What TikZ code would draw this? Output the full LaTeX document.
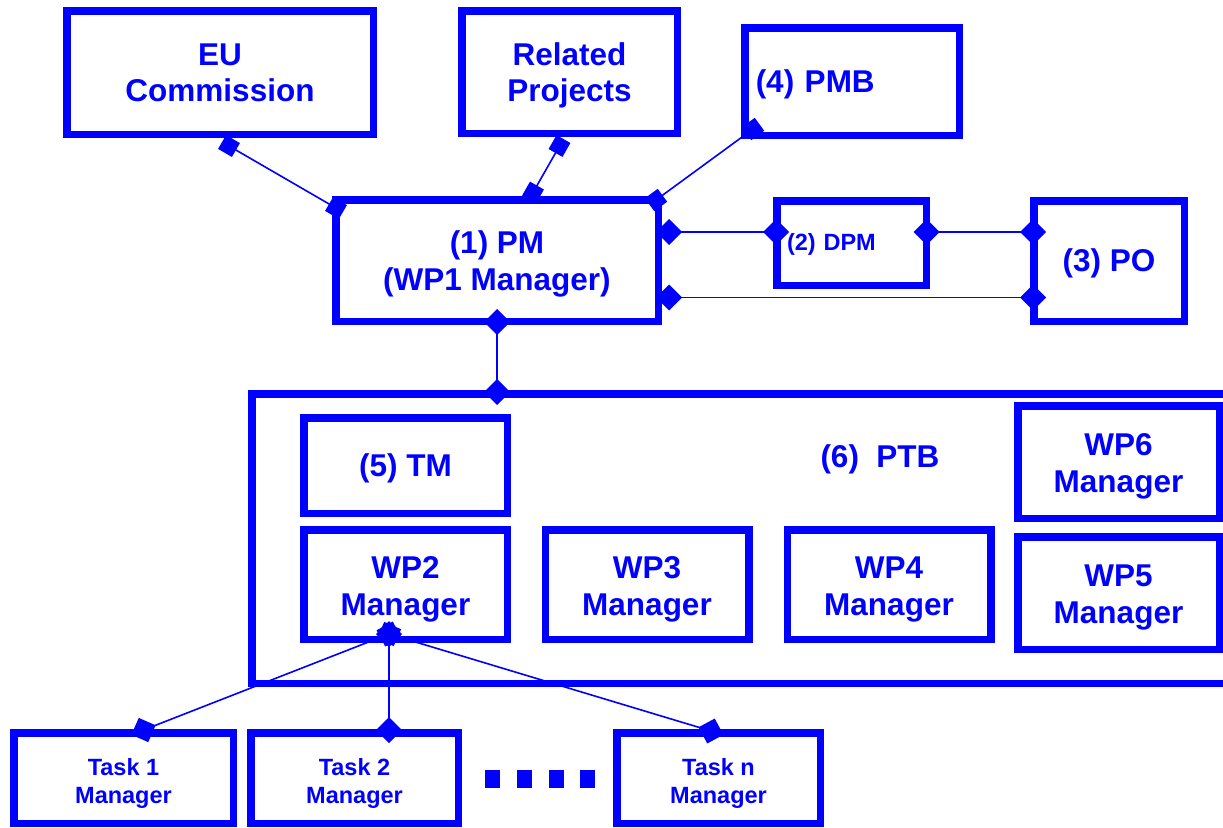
\documentclass[tikz,border=0pt]{standalone}
\usepackage{fontspec}
\setmainfont{Liberation Sans}
\usetikzlibrary{arrows.meta,calc}
\newcommand{\dnx}[2]{\raisebox{-#1}[\height][\depth]{\begin{tabular}{@{}c@{}}#2\end{tabular}}}
\begin{document}
\begin{tikzpicture}[x=1pt,y=-1pt,
  box/.style={draw=blue, line width=7.5pt, text=blue, inner sep=0pt, align=center,
              font=\fontsize{31.5}{36.5}\selectfont\bfseries},
  smallbox/.style={box, font=\fontsize{23.5}{28}\selectfont\bfseries},
  lbl/.style={text=blue, inner sep=0pt, font=\fontsize{31.5}{36.5}\selectfont\bfseries},
  conn/.style={color=blue, line width=1.6pt},
  ss/.style={conn, {Square[length=16pt,width=16pt]}-{Square[length=16pt,width=16pt]},
             shorten <=-8pt, shorten >=-8pt},
  dd/.style={conn, {Diamond[length=26pt,width=26pt]}-{Diamond[length=26pt,width=26pt]},
             shorten <=-13pt, shorten >=-13pt},
]
\useasboundingbox (0,0) rectangle (1223,827);
\clip (0,0) rectangle (1223,827);

% top row
\node[box, minimum width=306.5pt, minimum height=123.5pt] (eu) at (220,72.5) {\dnx{3.5pt}{EU\\Commission}};
\node[box, minimum width=215.5pt, minimum height=122.5pt] (rel) at (569.5,72) {\dnx{4pt}{Related\\Projects}};
\node[box, text width=192.5pt, inner xsep=11pt, align=left, minimum height=107.5pt] (pmb) at (852,81.5) {\dnx{3.5pt}{(4) PMB}};

% second row
\node[box, minimum width=322.5pt, minimum height=121.5pt] (pm) at (497,260.5) {\dnx{4pt}{(1) PM\\(WP1 Manager)}};
\node[box, text width=129pt, inner xsep=10.25pt, align=left, minimum height=84.5pt,
      font=\fontsize{23.5}{28}\selectfont\bfseries] (dpm) at (851.5,243) {\dnx{1.5pt}{(2) DPM}};
\node[box, minimum width=150.5pt, minimum height=120.5pt] (po) at (1109,261) {\dnx{3.5pt}{(3) PO}};

% PTB board
\node[box, minimum width=1048.25pt, minimum height=289.5pt] (ptb) at (775.9,538.5) {};
\node[lbl] (ptbl) at (880,458) {\dnx{2.5pt}{(6)\ \ PTB}};
\node[box, minimum width=203.5pt, minimum height=95.5pt] (tm) at (405.5,465.5) {\dnx{3.5pt}{(5) TM}};
\node[box, minimum width=203.5pt, minimum height=109.5pt] (wp2) at (405.5,584.5) {\dnx{5pt}{WP2\\Manager}};
\node[box, minimum width=203.5pt, minimum height=109.5pt] (wp3) at (647,584.5) {\dnx{5pt}{WP3\\Manager}};
\node[box, minimum width=203.5pt, minimum height=109.5pt] (wp4) at (889,584.5) {\dnx{5pt}{WP4\\Manager}};
\node[box, minimum width=201.5pt, minimum height=112.5pt] (wp6) at (1118.5,462) {\dnx{4.5pt}{WP6\\Manager}};
\node[box, minimum width=201.5pt, minimum height=112.5pt] (wp5) at (1118.5,593) {\dnx{4.5pt}{WP5\\Manager}};

% tasks
\node[smallbox, minimum width=219.5pt, minimum height=90.5pt] (t1) at (123.5,778) {\dnx{5.5pt}{Task 1\\Manager}};
\node[smallbox, minimum width=207.5pt, minimum height=90.5pt] (t2) at (354.5,778) {\dnx{5.5pt}{Task 2\\Manager}};
\node[smallbox, minimum width=203.5pt, minimum height=90.5pt] (tn) at (718.5,778) {\dnx{5.5pt}{Task n\\Manager}};

% dots
\foreach \cx in {492,524.5,556.5,587}
  \fill[blue] (\cx-7.5,770) rectangle (\cx+7.5,788);

% marker centres
\coordinate (c1a) at ([xshift=9pt,yshift=-8pt]eu.south);
\coordinate (c1b) at ([xshift=4pt,yshift=-12pt]pm.north west);
\coordinate (c2a) at ([xshift=-10pt,yshift=-9pt]rel.south);
\coordinate (c2b) at ([xshift=36pt,yshift=3.5pt]pm.north);
\coordinate (c3a) at ([xshift=12pt,yshift=10pt]pmb.south west);
\coordinate (c3b) at ([xshift=-6pt,yshift=-4pt]pm.north east);
\coordinate (c4a) at ([xshift=7pt,yshift=28.5pt]pm.east);
\coordinate (c4b) at ([xshift=3pt,yshift=11pt]dpm.west);
\coordinate (c5a) at ([xshift=-3.5pt,yshift=11pt]dpm.east);
\coordinate (c5b) at ([xshift=3pt,yshift=29pt]po.west);
\coordinate (c6a) at ([xshift=7pt,yshift=-37pt]pm.east);
\coordinate (c6b) at ([xshift=3pt,yshift=-36.5pt]po.west);
\coordinate (c7a) at ([yshift=3pt]pm.south);
\coordinate (c7b) at ([yshift=-2pt]ptb.north -| pm.south);
\coordinate (star) at ([xshift=-16.5pt,yshift=9pt]wp2.south);
\coordinate (c8) at ([xshift=20pt,yshift=-1pt]t1.north);
\coordinate (c9) at ([yshift=-1pt]t2.north -| star);
\coordinate (c10) at ([xshift=-7.5pt,yshift=-2pt]tn.north);

% connectors
\draw[ss] (c1a) -- (c1b);
\draw[ss] (c2a) -- (c2b);
\draw[ss] (c3a) -- (c3b);
\draw[dd] (c4a) -- (c4b);
\draw[dd] (c5a) -- (c5b);
\draw[dd] (c6a) -- (c6b);
\draw[dd] (c7a) -- (c7b);
\draw[dd] (star) -- (c8);
\draw[dd] (star) -- (c9);
\draw[dd] (star) -- (c10);
\end{tikzpicture}
\end{document}
